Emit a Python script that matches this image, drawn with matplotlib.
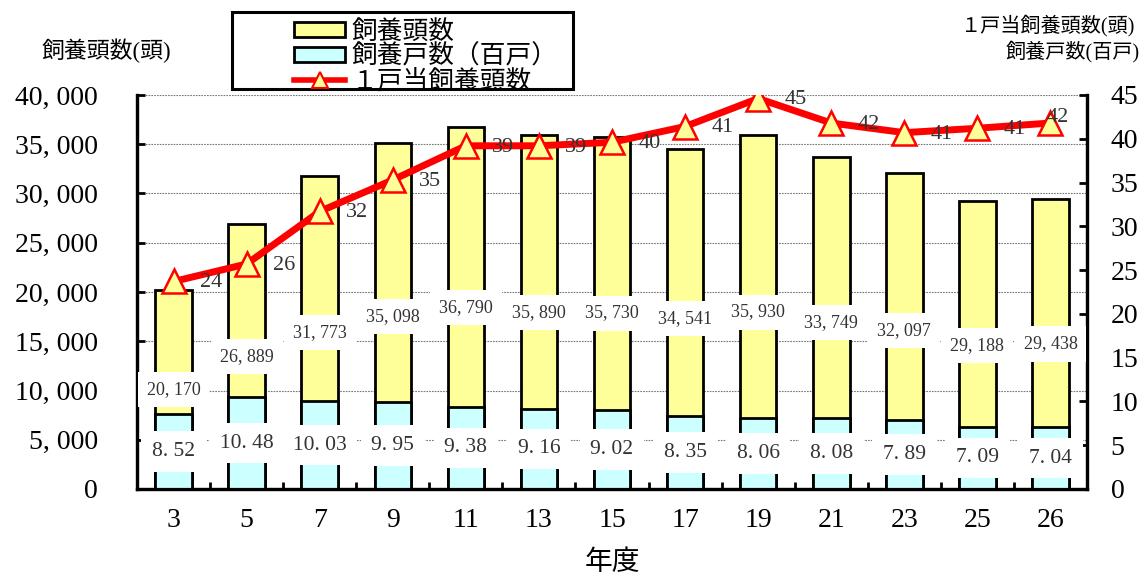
import matplotlib
matplotlib.use('Agg')
import matplotlib.pyplot as plt
import matplotlib.patches as mpatches
from matplotlib.lines import Line2D
from matplotlib.ticker import FuncFormatter, FixedLocator

plt.rcParams['font.family'] = ['Liberation Serif', 'Noto Sans CJK JP']

# data
years = ['3', '5', '7', '9', '11', '13', '15', '17', '19', '21', '23', '25', '26']
heads = [20170, 26889, 31773, 35098, 36790, 35890, 35730, 34541, 35930, 33749, 32097, 29188, 29438]
households = [8.52, 10.48, 10.03, 9.95, 9.38, 9.16, 9.02, 8.35, 8.06, 8.08, 7.89, 7.09, 7.04]
per_farm = [23.7, 25.7, 31.7, 35.3, 39.2, 39.2, 39.6, 41.4, 44.6, 41.8, 40.7, 41.2, 41.8]
per_farm_labels = ['24', '26', '32', '35', '39', '39', '40', '41', '45', '42', '41', '41', '42']

yellow = '#FFFF99'
cyan = '#CCFFFF'
red = '#FF0000'
txt = '#333333'

W, H = 1146, 575
fig = plt.figure(figsize=(W / 100, H / 100), dpi=100)
ax = fig.add_axes([137 / W, 1 - 489 / H, 950 / W, 394 / H])
ax2 = ax.twinx()

x = list(range(len(years)))

ax.bar(x, heads, width=0.5, color=yellow, edgecolor='black', linewidth=2, zorder=2)
ax2.bar(x, households, width=0.5, color=cyan, edgecolor='black', linewidth=2, zorder=2)
ax2.plot(x, per_farm, color=red, linewidth=5, marker='^', markersize=17,
         markerfacecolor=yellow, markeredgecolor=red, markeredgewidth=1.8, zorder=4)

ax.set_xlim(-0.5, len(years) - 0.5)
ax.set_ylim(0, 40000)
ax2.set_ylim(0, 45)

ax.set_axisbelow(True)
ax.yaxis.grid(True, linestyle=(0, (1.5, 1)), color='#777777', linewidth=0.8)

# labels
box = dict(boxstyle='square,pad=0.5', facecolor='white', edgecolor='none')
for i in x:
    ax2.text(i, heads[i] / 2, f'{heads[i]:,}'.replace(',', ', '), transform=ax.transData,
             ha='center', va='center', fontsize=13, color=txt, bbox=box, zorder=6)
    ax2.text(i, households[i] / 2, f'{households[i]:.2f}'.replace('.', '. '),
             ha='center', va='center', fontsize=15.5, color=txt, bbox=box, zorder=6)
    if i == len(years) - 1:
        off = (5, 4)
    else:
        off = (27, -1)
    ax2.annotate(per_farm_labels[i], (i, per_farm[i]), xytext=off, textcoords='offset points',
                 ha='center', va='center', fontsize=16, color=txt, zorder=7)

# axes styling
for a in (ax, ax2):
    a.spines['top'].set_visible(False)
    for s in ('left', 'right', 'bottom'):
        a.spines[s].set_linewidth(2.3)

ax.set_yticks(range(0, 40001, 5000))
ax.yaxis.set_major_formatter(FuncFormatter(lambda v, p: f'{int(v):,}'.replace(',', ', ')))
ax.tick_params(axis='y', direction='in', length=6, width=2, labelsize=20, pad=28)
ax2.set_yticks(range(0, 46, 5))
ax2.tick_params(axis='y', direction='in', length=6, width=2, labelsize=20, pad=17)

ax.set_xticks(x)
ax.set_xticklabels(years)
ax.tick_params(axis='x', length=0, labelsize=20, pad=14)
ax.xaxis.set_minor_locator(FixedLocator([i + 0.5 for i in x[:-1]]))
ax.tick_params(axis='x', which='minor', direction='in', length=5, width=2)
ax.set_xlabel('年度', fontsize=20, labelpad=12)

fig.text(42 / W, 1 - 51 / H, '飼養頭数(頭)', fontsize=16.5, ha='left', va='center')
fig.text(1134 / W, 1 - 26 / H, '１戸当飼養頭数(頭)', fontsize=14.5, ha='right', va='center')
fig.text(1140 / W, 1 - 52 / H, '飼養戸数(百戸)', fontsize=14.5, ha='right', va='center')

# legend with its own frame
handles = [
    mpatches.Patch(facecolor=yellow, edgecolor='black', linewidth=2),
    mpatches.Patch(facecolor=cyan, edgecolor='black', linewidth=2),
    Line2D([], [], color=red, linewidth=4, marker='^', markersize=12,
           markerfacecolor=yellow, markeredgecolor=red, markeredgewidth=1.5),
]
labels = ['飼養頭数', '飼養戸数（百戸）', '１戸当飼養頭数']
fig.legend(handles, labels, loc='upper left', bbox_to_anchor=(281 / W, 1 - 7 / H),
           frameon=False, fontsize=18.5, borderpad=0, labelspacing=0.0,
           handlelength=2.0, handleheight=0.5, handletextpad=0.25)
fig.patches.append(mpatches.Rectangle((232 / W, 1 - 89 / H), 341 / W, 77 / H,
                                      transform=fig.transFigure, fill=False,
                                      edgecolor='black', linewidth=2.2))

fig.savefig('out.png', dpi=100)
